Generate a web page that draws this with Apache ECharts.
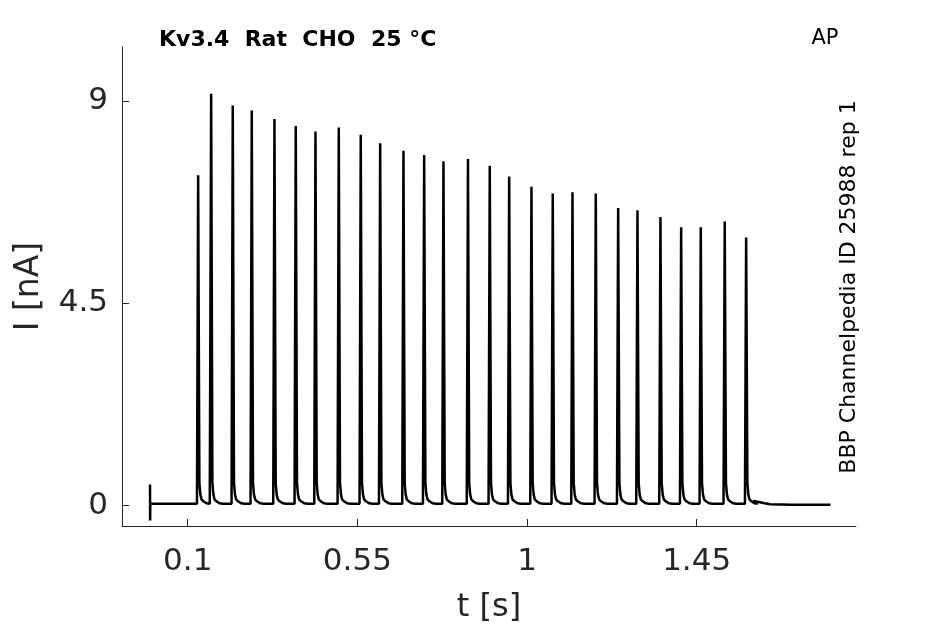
<!DOCTYPE html>
<html>
<head>
<meta charset="utf-8">
<script src="https://cdn.jsdelivr.net/npm/echarts@6/dist/echarts.min.js"></script>
<style>
html,body{margin:0;padding:0;background:#fff;}
#chart{width:945px;height:624px;}
</style>
</head>
<body>
<div id="chart"></div>
<script>
// Spike times (s) and peak currents (nA)
var spikeTimes = [0.1265, 0.1610, 0.2183, 0.2687, 0.3289, 0.3854, 0.4377, 0.4995, 0.5578,
  0.6093, 0.6711, 0.7260, 0.7772, 0.8422, 0.9000, 0.9515, 1.0106, 1.0671, 1.1194,
  1.1812, 1.2406, 1.2918, 1.3528, 1.4077, 1.4597, 1.5233, 1.5801];
var spikePeaks = [7.35, 9.16, 8.90, 8.79, 8.60, 8.44, 8.32, 8.41, 8.25,
  8.06, 7.89, 7.80, 7.66, 7.71, 7.56, 7.32, 7.09, 6.94, 6.97,
  6.94, 6.62, 6.57, 6.42, 6.19, 6.19, 6.32, 5.96];
// Spike waveform: time offsets (s) and current (nA); null = peak
var shapeDt  = [-0.002, 0.0,  0.0012, 0.0045, 0.007, 0.010, 0.016, 0.024, 0.032];
var shapeVal = [0.04,   0.06, null,   0.50,   0.25,  0.14,  0.09,  0.05,  0.04];
// Start artifact and trailing segment
var startTrace = [[0.0, 0.47], [0.0003, -0.33], [0.0008, 0.04]];
var endTrace = [[1.600, 0.10], [1.615, 0.08], [1.630, 0.05], [1.645, 0.03], [1.700, 0.02], [1.805, 0.02]];

var xTicks = [0.1, 0.55, 1, 1.45];
var yTicks = [0, 4.5, 9];
var titleText = 'Kv3.4  Rat  CHO  25 °C';
var protocolText = 'AP';
var sideText = 'BBP Channelpedia ID 25988 rep 1';

var trace = startTrace.slice();
for (var i = 0; i < spikeTimes.length; i++) {
  for (var k = 0; k < shapeDt.length; k++) {
    var v = shapeVal[k] === null ? spikePeaks[i] : shapeVal[k];
    trace.push([spikeTimes[i] + shapeDt[k], v]);
  }
}
trace = trace.concat(endTrace);

var axisColor = '#262626';
var font = 'DejaVu Sans';
var chart = echarts.init(document.getElementById('chart'), null, {renderer: 'canvas'});
chart.setOption({
  animation: false,
  backgroundColor: '#fff',
  grid: {left: 122, right: 89, top: 47, bottom: 98, containLabel: false, outerBoundsMode: 'none'},
  xAxis: {
    type: 'value', min: -0.0743, max: 1.8727,
    name: 't [s]', nameLocation: 'middle', nameGap: 66,
    nameTextStyle: {fontFamily: font, fontSize: 32, color: axisColor},
    axisLine: {show: true, onZero: false, lineStyle: {color: axisColor, width: 1}},
    axisTick: {show: true, inside: true, length: 7, customValues: xTicks, lineStyle: {color: axisColor}},
    axisLabel: {customValues: xTicks, fontFamily: font, fontSize: 31, color: axisColor, margin: 20},
    splitLine: {show: false}
  },
  yAxis: {
    type: 'value', min: -0.454, max: 10.2,
    name: 'I [nA]', nameLocation: 'middle', nameGap: 76, nameRotate: 90,
    nameTextStyle: {fontFamily: font, fontSize: 33, color: axisColor},
    axisLine: {show: true, onZero: false, lineStyle: {color: axisColor, width: 1}},
    axisTick: {show: true, inside: true, length: 7, customValues: yTicks, lineStyle: {color: axisColor}},
    axisLabel: {customValues: yTicks, fontFamily: font, fontSize: 31, color: axisColor, margin: 14},
    splitLine: {show: false}
  },
  series: [{
    type: 'line', data: trace, showSymbol: false, sampling: 'none',
    lineStyle: {color: '#000', width: 2.5}, clip: true
  }],
  graphic: [
    {type: 'text', left: 159, top: 29, style: {text: titleText, fontFamily: font, fontSize: 22, fontWeight: 'bold', fill: '#000'}},
    {type: 'text', x: 825, y: 39, style: {text: protocolText, fontFamily: font, fontSize: 21, fill: '#000', align: 'center', verticalAlign: 'middle'}},
    {type: 'text', x: 849, y: 287, rotation: Math.PI / 2, style: {text: sideText, fontFamily: font, fontSize: 22, fill: '#000', align: 'center', verticalAlign: 'middle'}}
  ]
});
</script>
</body>
</html>
